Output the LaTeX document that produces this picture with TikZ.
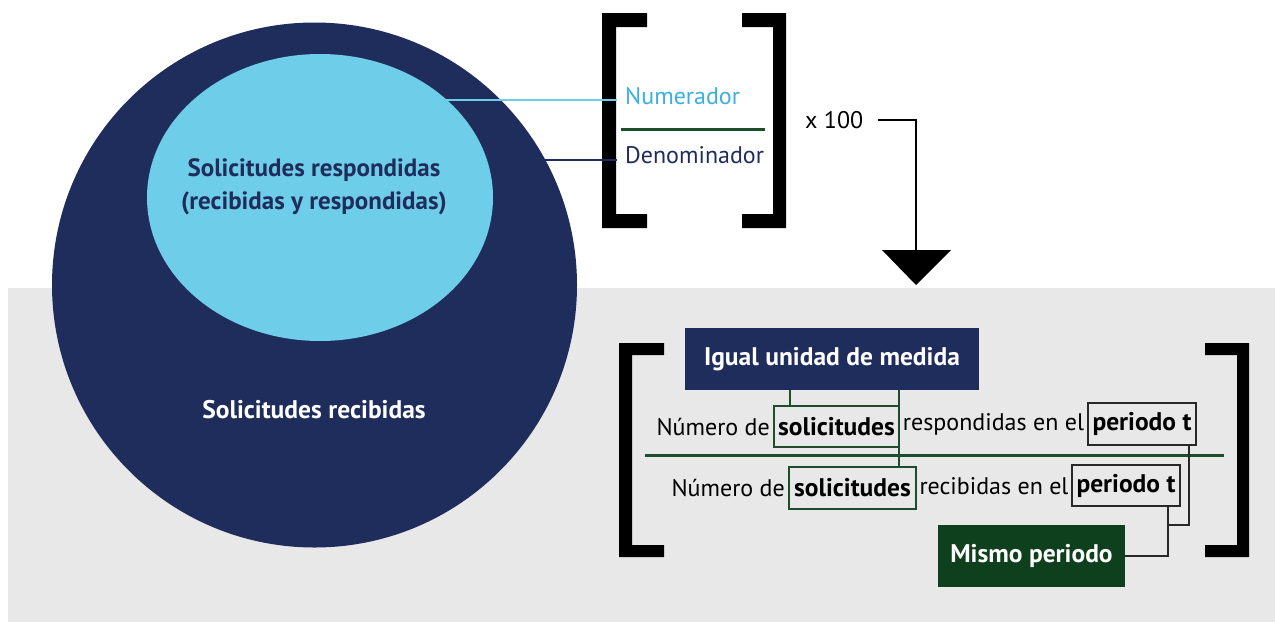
\documentclass[tikz,border=0pt]{standalone}
\usepackage{fontspec}
\setmainfont{PT Sans}
\usetikzlibrary{shapes.geometric}
\definecolor{navy}{RGB}{31,45,92}
\definecolor{skyfill}{RGB}{110,205,232}
\definecolor{skytext}{RGB}{58,176,226}
\definecolor{dkgreen}{RGB}{30,77,43}
\definecolor{boxgreen}{RGB}{15,64,30}
\definecolor{graybg}{RGB}{232,232,232}
\definecolor{boxgray}{RGB}{40,40,40}
\tikzset{
  reg/.style={font=\fontsize{24}{28}\selectfont, inner sep=0pt},
  bld/.style={font=\fontsize{25}{28}\selectfont\bfseries, inner sep=0pt},
  greenbox/.style={draw=dkgreen, line width=2pt, inner sep=0pt, font=\fontsize{25.5}{28}\selectfont\bfseries},
  graybox/.style={draw=boxgray, line width=2pt, inner sep=0pt, font=\fontsize{25.5}{28}\selectfont\bfseries},
  labelbox/.style={inner sep=0pt, text=white, font=\fontsize{25.5}{28}\selectfont\bfseries},
  bracket/.style={fill=black},
  conn/.style={line width=2pt},
}
\begin{document}
\begin{tikzpicture}[x=1pt,y=-1pt]
\useasboundingbox (0,0) rectangle (1275,622);
\fill[graybg] (8,288) rectangle (1275,622);
% circles
\node[circle, fill=navy, minimum size=525pt, inner sep=0pt] (outer) at (314.5,285) {};
\node[ellipse, fill=skyfill, minimum width=346pt, minimum height=287pt, inner sep=0pt] (inner) at (320,197.5) {};
\node[bld, text=navy, align=center, font=\fontsize{25}{33}\selectfont\bfseries] (resp) at (314,187) {Solicitudes respondidas\\(recibidas y respondidas)};
\node[bld, text=white, font=\fontsize{25.5}{28}\selectfont\bfseries] (recib) at (314,410) {Solicitudes recibidas};
% top fraction
\fill[bracket] (647,13) -- (602,13) -- (602,228) -- (647,228) -- (647,214) -- (616,214) -- (616,27) -- (647,27) -- cycle;
\fill[bracket] (742,13) -- (786,13) -- (786,228) -- (742,228) -- (742,214) -- (773,214) -- (773,27) -- (742,27) -- cycle;
\node[reg, text=skytext, anchor=west] (num) at (625,96) {Numerador};
\node[reg, text=navy, anchor=west] (den) at (625,155) {Denominador};
\coordinate (fl1) at (621,129);
\coordinate (fl2) at (765,129);
\draw[dkgreen, line width=3pt] (fl1) -- (fl2);
\coordinate (numsrc) at (440,100);
\coordinate (numdst) at (617,100);
\coordinate (densrc) at (543,160);
\coordinate (dendst) at (617,160);
\draw[skyfill, conn] (numsrc) -- (numdst);
\draw[navy, conn] (densrc) -- (dendst);
\node[reg, anchor=west] (x100) at (805,120) {x 100};
\coordinate (arrtop) at (916,250);
\draw[conn] ([xshift=15pt]x100.east) -| (arrtop);
\fill (882,250) -- (951,250) -- (916,285) -- cycle;
% bottom fraction
\fill[bracket] (664,343) -- (619,343) -- (619,557) -- (664,557) -- (664,545) -- (632,545) -- (632,355) -- (664,355) -- cycle;
\fill[bracket] (1205,343) -- (1249,343) -- (1249,557) -- (1205,557) -- (1205,545) -- (1237,545) -- (1237,355) -- (1205,355) -- cycle;
\node[fill=navy, minimum width=294pt, minimum height=62pt, labelbox] (igual) at (832,359) {Igual unidad de medida};
\node[greenbox, minimum width=125pt, minimum height=41pt] (s1) at (836.5,426.5) {solicitudes};
\node[greenbox, minimum width=127pt, minimum height=42pt] (s2) at (852.5,488) {solicitudes};
\node[graybox, minimum width=108pt, minimum height=42pt] (p1) at (1142,424) {periodo t};
\node[graybox, minimum width=108pt, minimum height=41pt] (p2) at (1126,485.5) {periodo t};
\node[reg, anchor=east] (n1) at ([xshift=-3pt]s1.west) {Número de};
\node[reg] (r1) at (993.5,424) {respondidas en el};
\node[reg, anchor=east] (n2) at ([xshift=-3pt]s2.west) {Número de};
\node[reg] (r2) at (994,486) {recibidas en el};
\coordinate (bl1) at (645,455);
\coordinate (bl2) at (1224,455);
\draw[dkgreen, line width=3pt] (bl1) -- (bl2);
\draw[dkgreen, conn] ([xshift=-42pt]igual.south) -- ([xshift=-46.5pt]s1.north);
\draw[dkgreen, conn] ([xshift=67pt]igual.south) -- ([xshift=46.5pt]s2.north);
\node[fill=boxgreen, minimum width=187pt, minimum height=62pt, labelbox] (mismo) at (1031.5,556) {Mismo periodo};
\draw[boxgray, conn] ([xshift=-8pt]p1.south east) -- ++(0,79) -- ++(-21,0);
\draw[boxgray, conn] ([xshift=-13pt]p2.south east) |- (mismo.east);
\end{tikzpicture}
\end{document}
